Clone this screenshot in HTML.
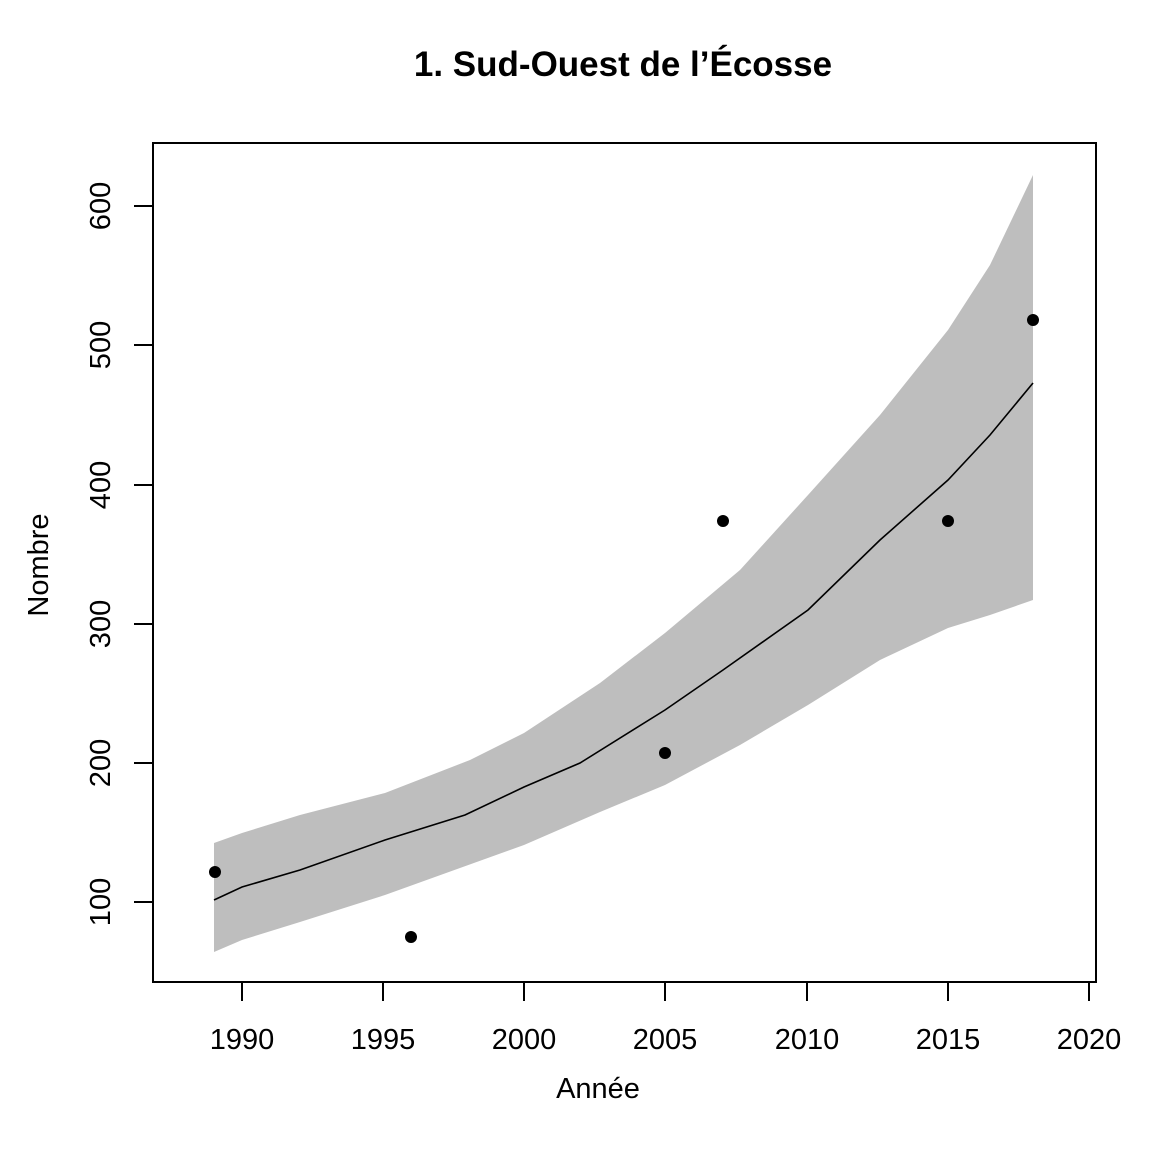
<!DOCTYPE html>
<html><head><style>body{margin:0;background:#fff}</style></head><body>
<svg width="1170" height="1162" xmlns="http://www.w3.org/2000/svg" font-family="Liberation Sans, sans-serif">
<text x="623" y="76" text-anchor="middle" font-size="35" font-weight="bold">1. Sud-Ouest de l’Écosse</text>
<polygon fill="#bebebe" points="214,843 242,833 300,815 385,793 470,760 524,733 600,683 665,633 740,570 808,495 880,415 948,330 990,265 1033,175 1033,600 990,615 948,628 880,660 808,705 740,745 665,785 600,812 524,845 460,868 385,895 300,922 242,940 214,952"/>
<polyline fill="none" stroke="#000" stroke-width="1.6" points="214,900 242,887 300,870 385,840 465,815 524,787 580,763 665,710 723,670 808,610 880,540 948,480 990,435 1033,383"/>
<g fill="#000">
<circle cx="215" cy="872" r="6"/><circle cx="411" cy="937" r="6"/><circle cx="665" cy="753" r="6"/><circle cx="723" cy="521" r="6"/><circle cx="948" cy="521" r="6"/><circle cx="1033" cy="320" r="6"/>
</g>
<rect x="153" y="143" width="943" height="839" fill="none" stroke="#000" stroke-width="2"/>
<g stroke="#000" stroke-width="2">
<line x1="242" y1="982" x2="242" y2="1001"/><line x1="383" y1="982" x2="383" y2="1001"/><line x1="524" y1="982" x2="524" y2="1001"/><line x1="665" y1="982" x2="665" y2="1001"/><line x1="807" y1="982" x2="807" y2="1001"/><line x1="948" y1="982" x2="948" y2="1001"/><line x1="1089" y1="982" x2="1089" y2="1001"/>
<line x1="134" y1="902" x2="153" y2="902"/><line x1="134" y1="763" x2="153" y2="763"/><line x1="134" y1="624" x2="153" y2="624"/><line x1="134" y1="485" x2="153" y2="485"/><line x1="134" y1="345" x2="153" y2="345"/><line x1="134" y1="206" x2="153" y2="206"/>
</g>
<g font-size="29" text-anchor="middle">
<text x="242" y="1049">1990</text><text x="383" y="1049">1995</text><text x="524" y="1049">2000</text><text x="665" y="1049">2005</text><text x="807" y="1049">2010</text><text x="948" y="1049">2015</text><text x="1089" y="1049">2020</text>
<text x="598" y="1098">Année</text>
<text transform="translate(110,902) rotate(-90)">100</text>
<text transform="translate(110,763) rotate(-90)">200</text>
<text transform="translate(110,624) rotate(-90)">300</text>
<text transform="translate(110,485) rotate(-90)">400</text>
<text transform="translate(110,345) rotate(-90)">500</text>
<text transform="translate(110,206) rotate(-90)">600</text>
<text transform="translate(48,565) rotate(-90)">Nombre</text>
</g>
</svg>
</body></html>
